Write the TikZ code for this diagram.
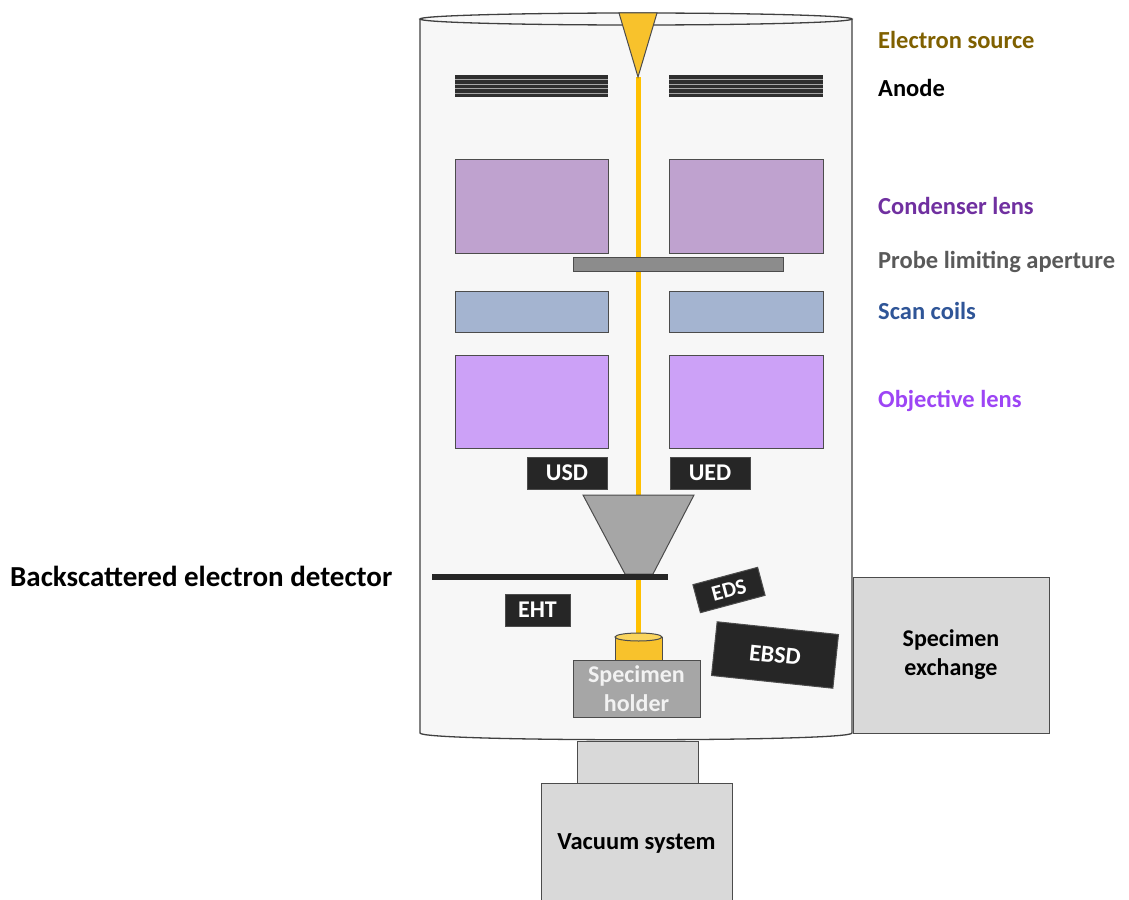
\documentclass[tikz,border=0pt]{standalone}
\usepackage{fontspec}
\setmainfont{Carlito}
\usetikzlibrary{calc}
\definecolor{bodyfill}{HTML}{F7F7F7}
\definecolor{gold}{HTML}{F8C22C}
\definecolor{goldtop}{HTML}{FAD55E}
\definecolor{beamcol}{HTML}{FFC000}
\definecolor{condfill}{HTML}{BFA2CF}
\definecolor{scanfill}{HTML}{A4B4D0}
\definecolor{objfill}{HTML}{CCA1F7}
\definecolor{darkbox}{HTML}{262626}
\definecolor{midgray}{HTML}{A6A6A6}
\definecolor{lightgray}{HTML}{D9D9D9}
\definecolor{srccol}{HTML}{7F6000}
\definecolor{condcol}{HTML}{7030A0}
\definecolor{probecol}{HTML}{595959}
\definecolor{scancol}{HTML}{2F5597}
\definecolor{objcol}{HTML}{9D45F5}
\begin{document}
\begin{tikzpicture}[x=1pt,y=-1pt,
  outl/.style={draw=black!70, line width=1pt},
  part/.style={outl, fill=#1},
  beam/.style={draw=beamcol, line width=5pt},
  lbl/.style={anchor=west, inner sep=0pt, font=\fontsize{24.5}{28}\selectfont\bfseries},
  tag/.style={outl, fill=darkbox, text=white, inner sep=0pt,
              font=\fontsize{24}{28}\selectfont\bfseries},
  greybox/.style={outl, fill=#1, inner sep=0pt, align=center,
              font=\fontsize{24}{29}\selectfont\bfseries}]
\useasboundingbox (0,0) rectangle (1129,899);

% column body
\fill[bodyfill] (420,19) -- (420,733) .. controls (420,742) and (852,742) .. (852,733) -- (852,19) -- cycle;
\draw[black!75, line width=1.3pt] (420,19) -- (420,733) .. controls (420,742) and (852,742) .. (852,733) -- (852,19);
\draw[black!75, line width=1.3pt, fill=bodyfill] (636,19) ellipse[x radius=216, y radius=6];

% electron beam
\coordinate (tip) at (638,77);
\coordinate (conetop) at (638,496);
\coordinate (platebot) at (638,580);
\coordinate (sampletop) at (638,637);
\draw[beam] (tip) -- (conetop);
\draw[beam] (platebot) -- (sampletop);

% electron source
\draw[part=gold] (619,13) -- (657,13) -- (tip) -- cycle;

% anode plates
\foreach \xa/\xb in {455/608, 669/823}{
  \fill[black!82] (\xa,75) rectangle (\xb,97);
  \foreach \yy in {79.5,84,88.5,93}
    \draw[black!35, line width=1pt] (\xa,\yy) -- (\xb,\yy);
}

% condenser lens
\draw[part=condfill] (455,159) rectangle (608,253);
\draw[part=condfill] (669,159) rectangle (823,253);
% probe limiting aperture
\draw[part=black!45] (573,257) rectangle (783,271);
% scan coils
\draw[part=scanfill] (455,291) rectangle (608,332);
\draw[part=scanfill] (669,291) rectangle (823,332);
% objective lens
\draw[part=objfill] (455,355) rectangle (608,448);
\draw[part=objfill] (669,355) rectangle (823,448);

% detectors
\node[tag, minimum width=80pt, minimum height=32pt] (usd) at (567,473) {USD};
\node[tag, minimum width=80pt, minimum height=32pt] (ued) at (710,473) {UED};
\draw[part=midgray] (583,495) -- (694,495) -- (653,574) -- (625,574) -- cycle;
\fill[darkbox] (432,574) rectangle (668,580);
\node[tag, minimum width=65pt, minimum height=32pt] (eht) at (537.5,610) {EHT};
\node[tag, minimum width=67pt, minimum height=29pt, rotate=15,
      font=\fontsize{22}{26}\selectfont\bfseries] (eds) at (729,590) {EDS};
\node[tag, minimum width=122pt, minimum height=54pt, rotate=-6] (ebsd) at (775,655) {EBSD};

% specimen and holder
\draw[part=gold] (615,637) rectangle (662,660);
\draw[part=goldtop] (638.5,637) ellipse[x radius=23.5, y radius=4];
\node[greybox=midgray, text=black!5, minimum width=127pt, minimum height=57pt] (holder) at (636.5,689) {Specimen\\holder};

% attachments
\node[greybox=lightgray, minimum width=196pt, minimum height=156pt] (exchange) at (951,655) {Specimen\\exchange};
\draw[part=lightgray] (577,741) rectangle (698,783);
\draw[part=lightgray] (541,783) rectangle (732,905);
\node[font=\fontsize{24.5}{28}\selectfont\bfseries] (vacuum) at (636.5,843) {Vacuum system};

% labels
\node[lbl, text=srccol] (lsrc) at (878,40) {Electron source};
\node[lbl] (lanode) at (878,88) {Anode};
\node[lbl, text=condcol] (lcond) at (878,206) {Condenser lens};
\node[lbl, text=probecol] (lprobe) at (878,262) {Probe limiting aperture};
\node[lbl, text=scancol] (lscan) at (878,311) {Scan coils};
\node[lbl, text=objcol] (lobj) at (878,401) {Objective lens};
\node[lbl, font=\fontsize{29}{33}\selectfont\bfseries] (lbse) at (10,576) {Backscattered electron detector};
\end{tikzpicture}
\end{document}
